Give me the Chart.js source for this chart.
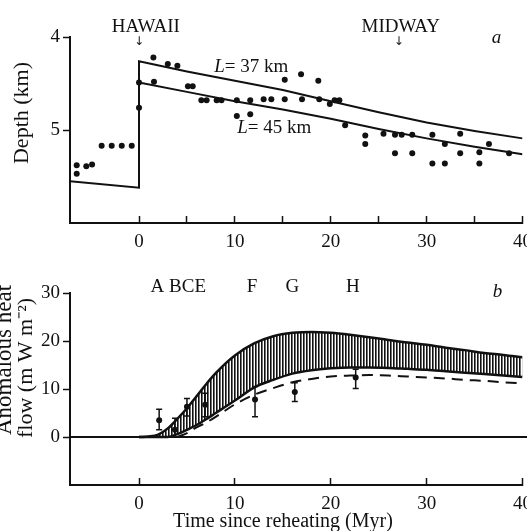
<!DOCTYPE html>
<html lang="en">
  <head>
    <meta charset="UTF-8" />
    <title>Hawaiian swell: depth and heat flow</title>
    <script src="https://cdn.jsdelivr.net/npm/chart.js@4"></script>
    <style>
      body {
        margin: 0;
        background: #fff;
        overflow: hidden;
      }
      #wrap {
        position: relative;
        width: 527px;
        height: 531px;
        overflow: hidden;
      }
      canvas {
        position: absolute;
        left: 0;
      }
      #depth {
        top: 0;
      }
      #heat {
        top: 255px;
      }
    </style>
  </head>
  <body>
    <div id="wrap">
      <canvas id="depth" width="547" height="255"></canvas>
      <canvas id="heat" width="547" height="276"></canvas>
    </div>

    <script>
      // tick labels
      const depthTicksX = [0, 5, 10, 15, 20, 25, 30, 35, 40];
      const depthTicksY = [4, 5];
      const heatTicksX = [0, 10, 20, 30, 40];
      const heatTicksY = [0, 10, 20, 30];

      // panel a: depth model curves (km)
      const plateX = [-7.2, 0];
      const plateDepth = [5.55, 5.62];
      const curveX = [0, 5, 10, 15, 20, 25, 30, 35, 40];
      const l37Depth = [4.26, 4.37, 4.47, 4.57, 4.69, 4.81, 4.92, 5.01, 5.09];
      const l45Depth = [4.49, 4.59, 4.69, 4.78, 4.88, 4.99, 5.09, 5.18, 5.26];

      // panel a: observed depths
      const obsX = [
        -6.5, -6.5, -5.5, -4.9, -3.9, -2.85, -1.8, -0.76, 0, 0, 1.5, 1.56, 3.0,
        4.0, 5.1, 5.6, 6.5, 7.05, 8.1, 8.6, 10.2, 11.6, 10.2, 11.6, 13.0, 13.8,
        15.2, 15.2, 16.9, 17.0, 18.7, 18.8, 19.9, 20.4, 20.9, 21.5, 23.6, 23.6,
        25.5, 26.7, 27.4, 26.7, 28.5, 28.5, 30.6, 30.6, 31.9, 31.9, 33.5, 33.5,
        35.5, 35.5, 36.5, 38.6,
      ];
      const obsDepth = [
        5.38, 5.47, 5.39, 5.37, 5.17, 5.17, 5.17, 5.17, 4.76, 4.49, 4.22, 4.48,
        4.29, 4.31, 4.53, 4.53, 4.68, 4.68, 4.68, 4.68, 4.68, 4.68, 4.85, 4.83,
        4.67, 4.67, 4.46, 4.67, 4.4, 4.67, 4.47, 4.67, 4.72, 4.68, 4.68, 4.95,
        5.06, 5.15, 5.04, 5.05, 5.05, 5.25, 5.05, 5.25, 5.05, 5.36, 5.15, 5.36,
        5.04, 5.25, 5.24, 5.36, 5.15, 5.25,
      ];

      // panel b: anomalous heat flow band (mW m-2)
      const bandX = [
        0, 1, 2, 3, 4, 5, 6, 7, 8, 9, 10, 12, 14, 16, 18, 20, 22, 24, 26, 28,
        30, 32, 34, 36, 38, 40,
      ];
      const bandUpper = [
        0, 0.1, 0.5, 1.8, 3.8, 6.0, 8.5, 11, 13.3, 15.3, 17, 19.5, 21, 21.7,
        21.9, 21.7, 21.3, 20.8, 20.2, 19.7, 19.2, 18.6, 18.1, 17.5, 17.1, 16.6,
      ];
      const bandLower = [
        0, 0, 0, 0, 0.6, 1.5, 2.5, 3.7, 5, 6.3, 7.6, 10.3, 11.9, 13.2, 13.9,
        14.3, 14.5, 14.5, 14.4, 14.2, 14.0, 13.7, 13.4, 13.1, 12.8, 12.5,
      ];
      const dashX = [4, 5, 6, 7, 8, 10, 12, 14, 16, 18, 20, 22, 24, 26, 28, 30, 32, 34, 36, 38, 40];
      const dashFlow = [
        0, 0.8, 2, 3, 4.2, 6.8, 8.8, 10.2, 11.4, 12.1, 12.6, 12.8, 12.9, 12.8,
        12.6, 12.4, 12.2, 11.9, 11.7, 11.4, 11.2,
      ];

      // panel b: measurements A B C E F G H
      const siteNames = ["A BCE", "F", "G", "H"];
      const siteX = [2.1, 3.75, 5.0, 6.9, 12.1, 16.25, 22.6];
      const siteFlow = [3.5, 1.5, 6.3, 6.7, 7.8, 9.4, 12.4];
      const siteLow = [1.5, 0, 4.4, 4.2, 4.2, 7.4, 10.1];
      const siteHigh = [5.8, 3.9, 8.0, 9.1, 10.5, 11.3, 14.1];

      const ink = "#111";
      const serif = '"Liberation Serif", "Times New Roman", serif';
      Chart.defaults.font.family = serif;
      Chart.defaults.font.size = 19;
      Chart.defaults.color = ink;

      const pts = (xs, ys) => xs.map((x, i) => ({ x: x, y: ys[i] }));

      // text drawn at data or pixel positions
      function notes(items) {
        return {
          id: "notes",
          afterDraw(chart) {
            const ctx = chart.ctx;
            const sx = chart.scales.x;
            const sy = chart.scales.y;
            items.forEach((n) => {
              const x = n.px ? n.x : sx.getPixelForValue(n.x);
              const y = n.px ? n.y : sy.getPixelForValue(n.y);
              ctx.save();
              ctx.translate(x, y);
              if (n.rotate) ctx.rotate(n.rotate);
              ctx.fillStyle = ink;
              ctx.textBaseline = "middle";
              const parts = n.parts || [{ t: n.text, italic: n.italic }];
              const size = n.size || 19;
              const fam = n.family || serif;
              const fontOf = (p) => (p.italic ? "italic " : "") + size + "px " + fam;
              let w = 0;
              parts.forEach((p) => {
                ctx.font = fontOf(p);
                w += ctx.measureText(p.t).width;
              });
              let cx = n.align === "left" ? 0 : -w / 2;
              ctx.textAlign = "left";
              parts.forEach((p) => {
                ctx.font = fontOf(p);
                ctx.fillText(p.t, cx, 0);
                cx += ctx.measureText(p.t).width;
              });
              ctx.restore();
            });
          },
        };
      }

      const errorBars = {
        id: "errorBars",
        afterDatasetsDraw(chart) {
          const ctx = chart.ctx;
          const sx = chart.scales.x;
          const sy = chart.scales.y;
          chart.data.datasets.forEach((ds) => {
            if (!ds.errLow) return;
            ctx.save();
            ctx.strokeStyle = ink;
            ctx.lineWidth = 1.5;
            ds.data.forEach((p, i) => {
              const x = sx.getPixelForValue(p.x);
              const y1 = sy.getPixelForValue(ds.errLow[i]);
              const y2 = sy.getPixelForValue(ds.errHigh[i]);
              ctx.beginPath();
              ctx.moveTo(x, y1);
              ctx.lineTo(x, y2);
              ctx.moveTo(x - 3, y1);
              ctx.lineTo(x + 3, y1);
              ctx.moveTo(x - 3, y2);
              ctx.lineTo(x + 3, y2);
              ctx.stroke();
            });
            ctx.restore();
          });
        },
      };

      function xAxis(ticks, height, labelled) {
        return {
          type: "linear",
          min: -7.2,
          max: 40,
          afterBuildTicks: (s) => {
            s.ticks = ticks.map((v) => ({ value: v }));
          },
          afterFit: (s) => {
            s.height = height;
          },
          grid: {
            drawOnChartArea: false,
            tickLength: -7,
            tickColor: ink,
            tickWidth: 1.5,
          },
          border: { color: ink, width: 2 },
          ticks: {
            padding: 15,
            maxRotation: 0,
            callback: (v) => (labelled.includes(v) ? v : ""),
          },
        };
      }

      function yAxis(min, max, ticks, reverse) {
        return {
          type: "linear",
          min: min,
          max: max,
          reverse: reverse,
          afterBuildTicks: (s) => {
            s.ticks = ticks.map((v) => ({ value: v }));
          },
          afterFit: (s) => {
            s.width = 70;
          },
          grid: {
            drawOnChartArea: false,
            tickLength: 7,
            tickColor: ink,
            tickWidth: 1.5,
          },
          border: { color: ink, width: 2 },
          ticks: { padding: 3 },
        };
      }

      const line = {
        type: "line",
        showLine: true,
        pointRadius: 0,
        borderColor: ink,
        borderWidth: 2,
        fill: false,
      };

      new Chart(document.getElementById("depth"), {
        type: "scatter",
        data: {
          datasets: [
            Object.assign({}, line, {
              data: pts(plateX.concat(curveX), plateDepth.concat(l37Depth)),
              tension: 0,
            }),
            Object.assign({}, line, {
              data: pts(curveX, l45Depth),
              tension: 0,
            }),
            {
              data: pts(obsX, obsDepth),
              pointRadius: 3,
              pointBackgroundColor: ink,
              pointBorderWidth: 0,
            },
          ],
        },
        options: {
          responsive: false,
          animation: false,
          layout: { padding: { top: 37, right: 0, bottom: 0, left: 0 } },
          plugins: { legend: { display: false }, tooltip: { enabled: false } },
          scales: {
            x: xAxis(depthTicksX, 32, [0, 10, 20, 30, 40]),
            y: yAxis(4, 6, depthTicksY, true),
          },
        },
        plugins: [
          notes([
            { text: "HAWAII", x: 0.7, y: 3.89 },
            { text: "\u2193", x: 0, y: 4.05, size: 12, family: '"DejaVu Sans"' },
            { text: "MIDWAY", x: 27.3, y: 3.89 },
            { text: "\u2193", x: 27.1, y: 4.05, size: 12, family: '"DejaVu Sans"' },
            { text: "a", italic: true, x: 37.3, y: 4.01 },
            { parts: [{ t: "L", italic: true }, { t: "= 37 km" }], x: 11.7, y: 4.32 },
            { parts: [{ t: "L", italic: true }, { t: "= 45 km" }], x: 14.1, y: 4.98 },
            { text: "Depth (km)", px: true, x: 22, y: 113, rotate: -Math.PI / 2, size: 22 },
          ]),
        ],
      });

      const heatCtx = document.getElementById("heat").getContext("2d");
      const tile = document.createElement("canvas");
      tile.width = 3;
      tile.height = 4;
      const tg = tile.getContext("2d");
      tg.fillStyle = "#111";
      tg.fillRect(0, 0, 1.6, 4);
      const hatch = heatCtx.createPattern(tile, "repeat");

      new Chart(heatCtx, {
        type: "scatter",
        data: {
          datasets: [
            Object.assign({}, line, {
              data: pts(bandX, bandUpper),
              cubicInterpolationMode: "monotone",
              fill: "+1",
              backgroundColor: hatch,
              borderWidth: 2.5,
            }),
            Object.assign({}, line, {
              data: pts(bandX, bandLower),
              cubicInterpolationMode: "monotone",
              borderWidth: 2.5,
            }),
            Object.assign({}, line, {
              data: pts(dashX, dashFlow),
              cubicInterpolationMode: "monotone",
              borderDash: [11, 7],
            }),
            Object.assign({}, line, {
              data: pts([-7.2, 40.6], [0, 0]),
              clip: false,
            }),
            {
              data: pts(siteX, siteFlow),
              errLow: siteLow,
              errHigh: siteHigh,
              pointRadius: 3,
              pointBackgroundColor: ink,
              pointBorderWidth: 0,
            },
          ],
        },
        options: {
          responsive: false,
          animation: false,
          layout: { padding: { top: 38, right: 0, bottom: 0, left: 0 } },
          plugins: { legend: { display: false }, tooltip: { enabled: false } },
          scales: {
            x: xAxis(heatTicksX, 46, heatTicksX),
            y: yAxis(-10, 30, heatTicksY, false),
          },
        },
        plugins: [
          errorBars,
          notes([
            { text: siteNames[0], x: 4.1, y: 31.25 },
            { text: siteNames[1], x: 11.8, y: 31.25 },
            { text: siteNames[2], x: 16.0, y: 31.25 },
            { text: siteNames[3], x: 22.3, y: 31.25 },
            { text: "b", italic: true, x: 37.4, y: 30.2 },
            { text: "Anomalous heat", px: true, x: 5, y: 180, rotate: -Math.PI / 2, align: "left", size: 23 },
            { text: "flow (m W m\u207B\u00B2)", px: true, x: 26, y: 183, rotate: -Math.PI / 2, align: "left", size: 22 },
            { text: "Time since reheating (Myr)", px: true, x: 283, y: 267, size: 20 },
          ]),
        ],
      });
    </script>
  </body>
</html>
